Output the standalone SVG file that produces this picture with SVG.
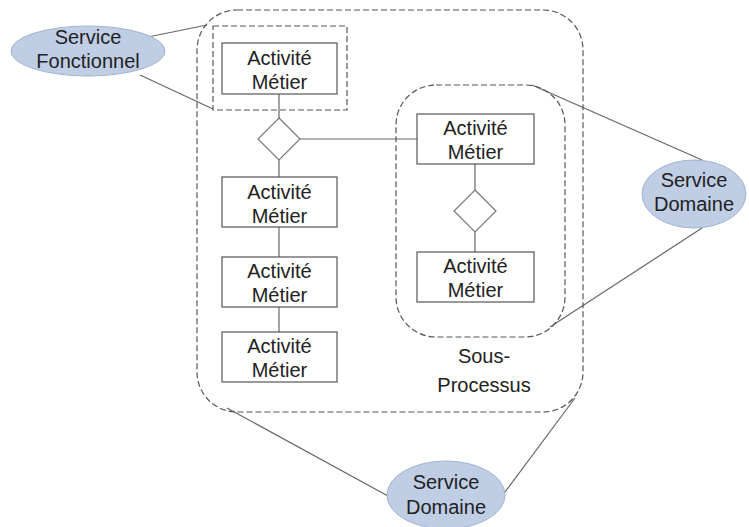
<svg xmlns="http://www.w3.org/2000/svg" width="749" height="527" viewBox="0 0 749 527">
<style>
.box{fill:#fff;stroke:#555;stroke-width:1.2}
.dash{fill:none;stroke:#555;stroke-width:1.2;stroke-dasharray:6 3}
.dia{fill:#fff;stroke:#777;stroke-width:1.2}
.ell{fill:#bfcde5;stroke:#a3b3cf;stroke-width:1}
.ln{fill:none;stroke:#666;stroke-width:1.2}
text{font-family:"Liberation Sans",Arial,sans-serif;font-size:20px;fill:#222;text-anchor:middle}
</style>
<rect width="749" height="527" fill="#fff"/>
<g id="connectors">
<line class="ln" x1="279" y1="94" x2="279" y2="118"/>
<line class="ln" x1="279" y1="160" x2="279" y2="177"/>
<line class="ln" x1="300" y1="139" x2="417" y2="139"/>
<line class="ln" x1="279" y1="227" x2="279" y2="257"/>
<line class="ln" x1="279" y1="307" x2="279" y2="332"/>
<line class="ln" x1="475" y1="164" x2="475" y2="190"/>
<line class="ln" x1="475" y1="232" x2="475" y2="252"/>
<line class="ln" x1="148" y1="37" x2="207" y2="25"/>
<line class="ln" x1="140" y1="75" x2="213" y2="109"/>
<line class="ln" x1="532" y1="85" x2="702" y2="160"/>
<line class="ln" x1="550" y1="327" x2="702" y2="228"/>
<line class="ln" x1="227" y1="408" x2="388" y2="496"/>
<line class="ln" x1="575" y1="398" x2="505" y2="492"/>
</g>
<g id="processus">
<rect class="dash" x="197" y="10" width="386" height="402" rx="40" ry="40"/>
</g>
<g id="sous-processus">
<rect class="dash" x="396" y="85" width="169" height="252" rx="40" ry="40"/>
<text x="484" y="363">Sous-<tspan x="484" dy="29">Processus</tspan></text>
</g>
<g id="focus">
<rect class="dash" x="213" y="26" width="134" height="84"/>
</g>
<g id="activite1">
<rect class="box" x="222" y="43" width="115" height="51"/>
<text x="279.5" y="65">Activité<tspan x="279.5" dy="24">Métier</tspan></text>
</g>
<g id="decision1">
<polygon class="dia" points="279,118 300,139 279,160 258,139"/>
</g>
<g id="activite2">
<rect class="box" x="222" y="177" width="115" height="50"/>
<text x="279.5" y="199">Activité<tspan x="279.5" dy="24">Métier</tspan></text>
</g>
<g id="activite3">
<rect class="box" x="222" y="257" width="115" height="50"/>
<text x="279.5" y="278">Activité<tspan x="279.5" dy="24">Métier</tspan></text>
</g>
<g id="activite4">
<rect class="box" x="222" y="332" width="115" height="50"/>
<text x="279.5" y="353">Activité<tspan x="279.5" dy="24">Métier</tspan></text>
</g>
<g id="activiteA">
<rect class="box" x="417" y="114" width="117" height="50"/>
<text x="475.5" y="135">Activité<tspan x="475.5" dy="24">Métier</tspan></text>
</g>
<g id="decision2">
<polygon class="dia" points="475,190 496,211 475,232 454,211"/>
</g>
<g id="activiteB">
<rect class="box" x="417" y="252" width="117" height="50"/>
<text x="475.5" y="273">Activité<tspan x="475.5" dy="24">Métier</tspan></text>
</g>
<g id="service-fonctionnel">
<ellipse class="ell" cx="88" cy="51" rx="77" ry="25"/>
<text x="88" y="44">Service<tspan x="88" dy="24">Fonctionnel</tspan></text>
</g>
<g id="service-domaine-droite">
<ellipse class="ell" cx="694" cy="194" rx="52" ry="34"/>
<text x="694" y="187">Service<tspan x="694" dy="24">Domaine</tspan></text>
</g>
<g id="service-domaine-bas">
<ellipse class="ell" cx="446" cy="495" rx="59" ry="34"/>
<text x="446" y="489">Service<tspan x="446" dy="25">Domaine</tspan></text>
</g>
</svg>
